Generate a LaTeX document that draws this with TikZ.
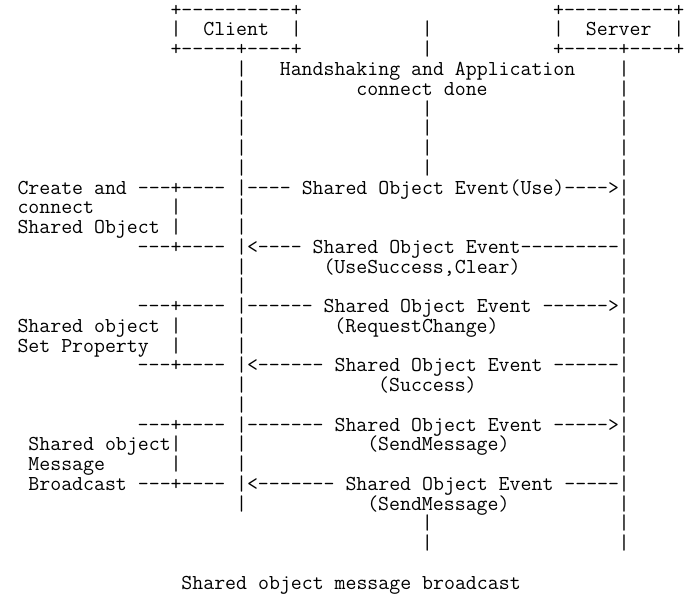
\documentclass[tikz,border=0pt]{standalone}
\usepackage{fontspec}
\setmonofont{Latin Modern Mono}
\begin{document}
\begin{tikzpicture}[x=1pt, y=1pt,
  ascii/.style={anchor=base west, inner sep=0pt, outer sep=0pt,
    font=\ttfamily\fontsize{21.25}{19.75}\selectfont}]

  \newcommand\CW{10.93}
  \newcommand\RH{19.75}
  \newcommand\XO{17.5}
  \newcommand\YO{-16.25}

  \useasboundingbox (0,0) rectangle (700,-599);

  % peers
  \node[ascii] (clienttop) at (\XO+14*\CW, \YO-0*\RH) {+----------+};
  \node[ascii] (client)    at (\XO+14*\CW, \YO-1*\RH) {|~~Client~~|};
  \node[ascii] (clientbot) at (\XO+14*\CW, \YO-2*\RH) {+-----+----+};

  \node[ascii] (servertop) at (\XO+49*\CW, \YO-0*\RH) {+----------+};
  \node[ascii] (server)    at (\XO+49*\CW, \YO-1*\RH) {|~~Server~~|};
  \node[ascii] (serverbot) at (\XO+49*\CW, \YO-2*\RH) {+-----+----+};

  % lifelines
  \foreach \rw in {3,...,25}
    \node[ascii] (cl\rw) at (\XO+20*\CW, \YO-\rw*\RH) {|};
  \foreach \rw in {3,...,27}
    \node[ascii] (sv\rw) at (\XO+55*\CW, \YO-\rw*\RH) {|};
  \foreach \rw in {1,2,5,6,7,8,26,27}
    \node[ascii] (mid\rw) at (\XO+37*\CW, \YO-\rw*\RH) {|};

  \node[ascii] (hs)   at (\XO+24*\CW, \YO-3*\RH) {Handshaking and Application};
  \node[ascii] (hsb)  at (\XO+31*\CW, \YO-4*\RH) {connect done};

  % create and connect
  \node[ascii] (create)  at (\XO+0*\CW, \YO-9*\RH)  {Create and ---+----};
  \node[ascii] (createb) at (\XO+0*\CW, \YO-10*\RH) {connect};
  \node[ascii] (createv) at (\XO+14*\CW, \YO-10*\RH) {|};
  \node[ascii] (createc) at (\XO+0*\CW, \YO-11*\RH) {Shared Object |};
  \node[ascii] (created) at (\XO+11*\CW, \YO-12*\RH) {---+----};

  \node[ascii] (use)    at (\XO+21*\CW, \YO-9*\RH)  {---- Shared Object Event(Use)---->};
  \node[ascii] (useok)  at (\XO+21*\CW, \YO-12*\RH) {<---- Shared Object Event---------};
  \node[ascii] (useokb) at (\XO+28*\CW, \YO-13*\RH) {(UseSuccess,Clear)};

  % set property
  \node[ascii] (setp)  at (\XO+11*\CW, \YO-15*\RH) {---+----};
  \node[ascii] (setpb) at (\XO+0*\CW, \YO-16*\RH)  {Shared object |};
  \node[ascii] (setpc) at (\XO+0*\CW, \YO-17*\RH)  {Set Property};
  \node[ascii] (setpv) at (\XO+14*\CW, \YO-17*\RH) {|};
  \node[ascii] (setpd) at (\XO+11*\CW, \YO-18*\RH) {---+----};

  \node[ascii] (req)   at (\XO+21*\CW, \YO-15*\RH) {------ Shared Object Event ------>};
  \node[ascii] (reqb)  at (\XO+29*\CW, \YO-16*\RH) {(RequestChange)};
  \node[ascii] (succ)  at (\XO+21*\CW, \YO-18*\RH) {<------ Shared Object Event ------};
  \node[ascii] (succb) at (\XO+33*\CW, \YO-19*\RH) {(Success)};

  % message broadcast
  \node[ascii] (bc)  at (\XO+11*\CW, \YO-21*\RH) {---+----};
  \node[ascii] (bcb) at (\XO+1*\CW, \YO-22*\RH)  {Shared object|};
  \node[ascii] (bcc) at (\XO+1*\CW, \YO-23*\RH)  {Message};
  \node[ascii] (bcv) at (\XO+14*\CW, \YO-23*\RH) {|};
  \node[ascii] (bcd) at (\XO+1*\CW, \YO-24*\RH)  {Broadcast ---+----};

  \node[ascii] (send)   at (\XO+21*\CW, \YO-21*\RH) {------- Shared Object Event ----->};
  \node[ascii] (sendb)  at (\XO+32*\CW, \YO-22*\RH) {(SendMessage)};
  \node[ascii] (recv)   at (\XO+21*\CW, \YO-24*\RH) {<------- Shared Object Event -----};
  \node[ascii] (recvb)  at (\XO+32*\CW, \YO-25*\RH) {(SendMessage)};

  \node[ascii] (caption) at (\XO+15*\CW, \YO-29*\RH) {Shared object message broadcast};

\end{tikzpicture}
\end{document}
